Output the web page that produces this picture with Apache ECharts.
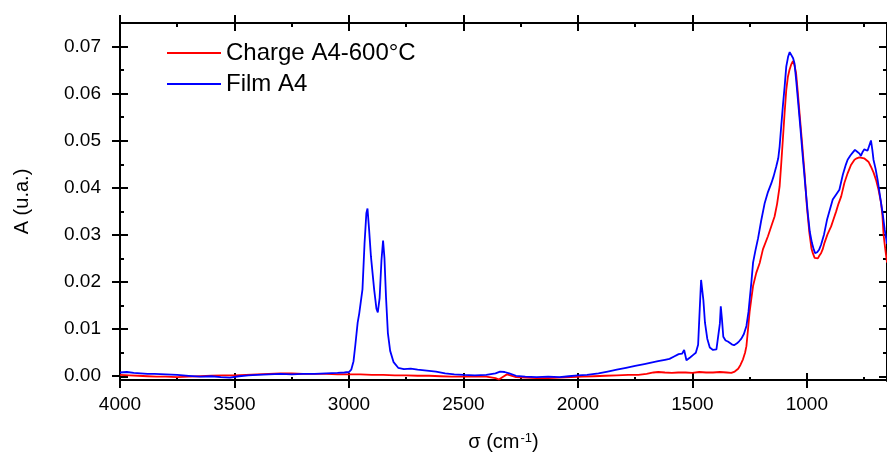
<!DOCTYPE html>
<html>
<head>
<meta charset="utf-8">
<script src="https://cdn.jsdelivr.net/npm/echarts@6/dist/echarts.min.js"></script>
<style>html,body{margin:0;padding:0;background:#fff;}#c{width:887px;height:457px;}</style>
</head>
<body>
<div id="c"></div>
<script>
// ---- data ----
const xMajorTicks = [1000, 1500, 2000, 2500, 3000, 3500, 4000];
const xMinorTicks = [750, 1250, 1750, 2250, 2750, 3250, 3750];
const yMajorTicks = [0, 0.01, 0.02, 0.03, 0.04, 0.05, 0.06, 0.07];
const yMinorTicks = [0.005, 0.015, 0.025, 0.035, 0.045, 0.055, 0.065];
const seriesNames = ['Charge A4-600°C', 'Film A4'];

const chargeX = [4000,3960,3920,3880,3840,3800,3750,3700,3650,3600,3550,3500,3450,3400,3350,3300,3250,3200,3150,3100,3050,3000,2950,2900,2850,2800,2750,2700,2650,2600,2550,2500,2450,2400,2360,2345,2330,2310,2295,2270,2230,2180,2130,2080,2030,1980,1930,1880,1830,1780,1736,1700,1670,1649,1620,1590,1562,1530,1500,1470,1440,1410,1380,1350,1330,1315,1300,1290,1279,1270,1264,1257,1250,1243,1235,1221,1206,1192,1170,1155,1141,1130,1119,1112,1105,1097,1090,1083,1076,1068,1061,1054,1047,1040,1032,1021,1010,1000,989,980,974,966,960,952,945,938,931,923,910,894,885,872,862,850,836,822,808,792,782,771,760,750,742,730,720,709,698,687,676,670,665,658,650];
const chargeY = [0.0001,0.0000,-0.0001,-0.0002,-0.0003,-0.0003,-0.0004,-0.0003,-0.0002,-0.0001,0.0000,0.0000,0.0001,0.0002,0.0003,0.0004,0.0004,0.0003,0.0003,0.0003,0.0002,0.0002,0.0002,0.0001,0.0001,0.0000,0.0000,-0.0001,-0.0001,-0.0002,-0.0003,-0.0003,-0.0002,-0.0003,-0.0006,-0.0009,-0.0004,0.0002,0.0000,-0.0004,-0.0005,-0.0006,-0.0006,-0.0005,-0.0004,-0.0003,-0.0002,-0.0001,0.0000,0.0001,0.0001,0.0003,0.0006,0.0007,0.0006,0.0005,0.0006,0.0006,0.0005,0.0007,0.0006,0.0006,0.0007,0.0006,0.0005,0.0008,0.0014,0.0022,0.0034,0.0048,0.0062,0.0098,0.0135,0.0161,0.0190,0.0218,0.0239,0.0268,0.0296,0.0318,0.0338,0.0365,0.0402,0.0450,0.0501,0.0560,0.0607,0.0635,0.0650,0.0662,0.0669,0.0660,0.0643,0.0605,0.0558,0.0495,0.0430,0.0360,0.0303,0.0270,0.0260,0.0250,0.0248,0.0249,0.0255,0.0260,0.0268,0.0282,0.0300,0.0317,0.0330,0.0349,0.0365,0.0381,0.0410,0.0430,0.0447,0.0459,0.0462,0.0464,0.0463,0.0462,0.0460,0.0454,0.0444,0.0432,0.0416,0.0395,0.0367,0.0340,0.0300,0.0270,0.0240];

const filmX = [4000,3970,3940,3910,3880,3850,3800,3750,3700,3650,3600,3560,3520,3480,3440,3400,3350,3300,3250,3200,3150,3100,3050,3020,3000,2990,2980,2972,2962,2955,2948,2941,2932,2924,2919,2912,2904,2890,2880,2874,2866,2858,2851,2845,2838,2830,2820,2805,2785,2760,2730,2700,2660,2620,2580,2540,2500,2450,2400,2360,2340,2320,2300,2270,2230,2180,2130,2080,2040,2000,1960,1910,1870,1830,1790,1750,1710,1680,1650,1620,1600,1580,1560,1545,1536,1526,1510,1495,1485,1475,1468,1462,1458,1452,1445,1435,1424,1410,1395,1388,1380,1376,1371,1365,1355,1345,1337,1328,1318,1305,1295,1286,1275,1264,1255,1250,1242,1235,1225,1213,1200,1184,1170,1155,1145,1134,1125,1119,1112,1105,1097,1090,1082,1075,1068,1060,1054,1047,1039,1028,1018,1007,996,987,978,970,964,955,946,938,925,912,900,887,872,858,843,830,822,810,800,790,780,770,764,756,749,742,735,727,720,714,709,700,691,680,669,660,650];
const filmY = [0.0006,0.0007,0.0005,0.0004,0.0003,0.0003,0.0002,0.0001,-0.0001,-0.0003,-0.0002,-0.0004,-0.0005,-0.0002,0.0000,0.0001,0.0002,0.0003,0.0002,0.0003,0.0003,0.0004,0.0005,0.0006,0.0007,0.0012,0.0030,0.0065,0.0112,0.0132,0.0136,0.0183,0.0280,0.0345,0.0355,0.0310,0.0253,0.0183,0.0142,0.0134,0.0165,0.0245,0.0287,0.0250,0.0165,0.0090,0.0052,0.0028,0.0016,0.0013,0.0014,0.0012,0.0010,0.0008,0.0004,0.0002,0.0001,0.0000,0.0001,0.0004,0.0008,0.0007,0.0004,-0.0001,-0.0003,-0.0004,-0.0003,-0.0004,-0.0002,0.0000,0.0001,0.0004,0.0008,0.0012,0.0016,0.0020,0.0024,0.0027,0.0030,0.0033,0.0035,0.0040,0.0045,0.0046,0.0054,0.0032,0.0038,0.0044,0.0048,0.0065,0.0140,0.0203,0.0205,0.0160,0.0112,0.0078,0.0059,0.0054,0.0055,0.0058,0.0110,0.0147,0.0120,0.0082,0.0074,0.0072,0.0071,0.0066,0.0064,0.0068,0.0073,0.0078,0.0088,0.0105,0.0135,0.0160,0.0200,0.0240,0.0265,0.0292,0.0328,0.0367,0.0390,0.0409,0.0424,0.0444,0.0462,0.0487,0.0530,0.0572,0.0615,0.0657,0.0678,0.0688,0.0686,0.0675,0.0664,0.0630,0.0586,0.0525,0.0466,0.0405,0.0345,0.0305,0.0282,0.0268,0.0260,0.0262,0.0268,0.0278,0.0300,0.0331,0.0352,0.0374,0.0385,0.0395,0.0427,0.0448,0.0459,0.0468,0.0474,0.0480,0.0476,0.0472,0.0467,0.0476,0.0481,0.0477,0.0478,0.0482,0.0500,0.0480,0.0459,0.0440,0.0416,0.0380,0.0345,0.0310,0.0280];

// ---- chart ----
const FONT = '"Liberation Sans", Arial, sans-serif';
const X_MIN = 650, X_MAX = 4000, Y_MIN = -0.001, Y_MAX = 0.075;
const gridBox = { left: 120, top: 23, width: 769, height: 358 };
const black = '#000';

function zip(xs, ys) { return xs.map((x, i) => [x, ys[i]]); }

const grids = [], xAxes = [], yAxes = [];
// variants: [xPos, yPos, xTicks, yTicks, inside, length, showLine]
const variants = [
  ['bottom', 'left', xMajorTicks, yMajorTicks, false, 8, true],
  ['top', 'right', xMajorTicks, yMajorTicks, false, 8, true],
  ['bottom', 'left', xMajorTicks, yMajorTicks, true, 8, false],
  ['top', 'right', xMajorTicks, yMajorTicks, true, 8, false],
  ['bottom', 'left', xMinorTicks, yMinorTicks, true, 4, false],
  ['top', 'right', xMinorTicks, yMinorTicks, true, 4, false]
];
variants.forEach((v, i) => {
  grids.push(Object.assign({ containLabel: false }, gridBox));
  const isMain = i === 0;
  xAxes.push({
    type: 'value', gridIndex: i, position: v[0], min: X_MIN, max: X_MAX, inverse: true,
    splitLine: { show: false },
    axisLine: { show: v[6], onZero: false, lineStyle: { color: black, width: 2 } },
    axisTick: { show: true, inside: v[4], length: v[5], customValues: v[2], lineStyle: { color: black, width: 2 } },
    axisLabel: isMain ? { show: true, customValues: xMajorTicks, color: black, fontSize: 19, fontFamily: FONT, margin: 15, formatter: val => String(Math.round(val)) } : { show: false },
    name: isMain ? '{a|σ (cm}{s|-1}{a|)}' : '',
    nameLocation: 'middle', nameGap: 52,
    nameTextStyle: { rich: { a: { fontSize: 20, fontFamily: FONT, color: black }, s: { fontSize: 13, fontFamily: FONT, color: black, verticalAlign: 'top', padding: [0, 0, 0, 1] } } }
  });
  yAxes.push({
    type: 'value', gridIndex: i, position: v[1], min: Y_MIN, max: Y_MAX,
    splitLine: { show: false },
    axisLine: { show: v[6], onZero: false, lineStyle: { color: black, width: 2 } },
    axisTick: { show: true, inside: v[4], length: v[5], customValues: v[3], lineStyle: { color: black, width: 2 } },
    axisLabel: isMain ? { show: true, customValues: yMajorTicks, color: black, fontSize: 19, fontFamily: FONT, margin: 19, formatter: val => val.toFixed(2) } : { show: false },
    name: isMain ? 'A (u.a.)' : '',
    nameLocation: 'middle', nameGap: 88,
    nameTextStyle: { fontSize: 20, fontFamily: FONT, color: black }
  });
});

const chart = echarts.init(document.getElementById('c'), null, { renderer: 'canvas' });
chart.setOption({
  animation: false,
  backgroundColor: '#fff',
  grid: grids,
  xAxis: xAxes,
  yAxis: yAxes,
  legend: {
    left: 167, top: 41, orient: 'vertical', padding: 0,
    icon: 'rect', itemWidth: 54, itemHeight: 2, itemGap: 7,
    textStyle: { fontSize: 24, fontFamily: FONT, color: black, lineHeight: 23 },
    data: seriesNames
  },
  series: [
    { name: seriesNames[0], type: 'line', xAxisIndex: 0, yAxisIndex: 0, data: zip(chargeX, chargeY), showSymbol: false, symbol: 'none', color: '#ff0000', lineStyle: { width: 1.8, color: '#ff0000' } },
    { name: seriesNames[1], type: 'line', xAxisIndex: 0, yAxisIndex: 0, data: zip(filmX, filmY), showSymbol: false, symbol: 'none', color: '#0000ff', lineStyle: { width: 1.8, color: '#0000ff' } }
  ]
});
</script>
</body>
</html>
